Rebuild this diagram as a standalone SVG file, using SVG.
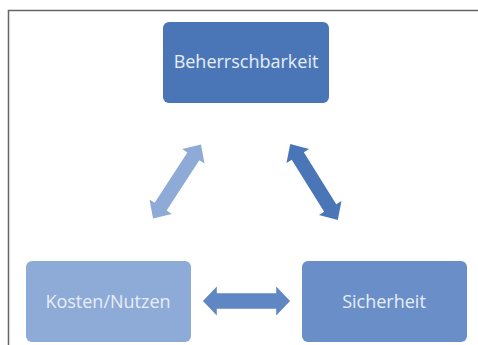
<svg xmlns="http://www.w3.org/2000/svg" width="478" height="345" viewBox="0 0 478 345">
<style>
.lbl{font-family:"Open Sans","Liberation Sans",sans-serif;font-size:18px;fill:#e8eef8;text-anchor:middle}
.frame{stroke:#666;stroke-width:1.5;fill:none}
</style>
<defs>
<path id="dbl" d="M-44,0 L-30,-14 L-30,-7.5 L30,-7.5 L30,-14 L44,0 L30,14 L30,7.5 L-30,7.5 L-30,14 Z"/>
</defs>
<rect width="478" height="345" fill="#ffffff"/>
<path class="frame" d="M8.5,345 L8.5,10.5 L478,10.5"/>
<g id="connectors">
<use href="#dbl" fill="#8eaad6" transform="translate(177,181.5) rotate(-57) scale(1,0.95)"/>
<use href="#dbl" fill="#4a76b8" transform="translate(314,182) rotate(58) scale(1.02,0.95)"/>
<use href="#dbl" fill="#5f87c3" transform="translate(246.5,301) scale(0.99,1.04)"/>
</g>
<g id="node-beherrschbarkeit">
<rect x="163" y="22" width="166" height="81" rx="6" fill="#4a76b8"/>
<text class="lbl" x="246" y="68">Beherrschbarkeit</text>
</g>
<g id="node-kosten">
<rect x="26" y="261" width="165" height="81" rx="6" fill="#8eaad6"/>
<text class="lbl" x="108" y="308">Kosten/Nutzen</text>
</g>
<g id="node-sicherheit">
<rect x="302" y="261" width="165" height="81" rx="6" fill="#6a8fc8"/>
<text class="lbl" x="384" y="308">Sicherheit</text>
</g>
</svg>
